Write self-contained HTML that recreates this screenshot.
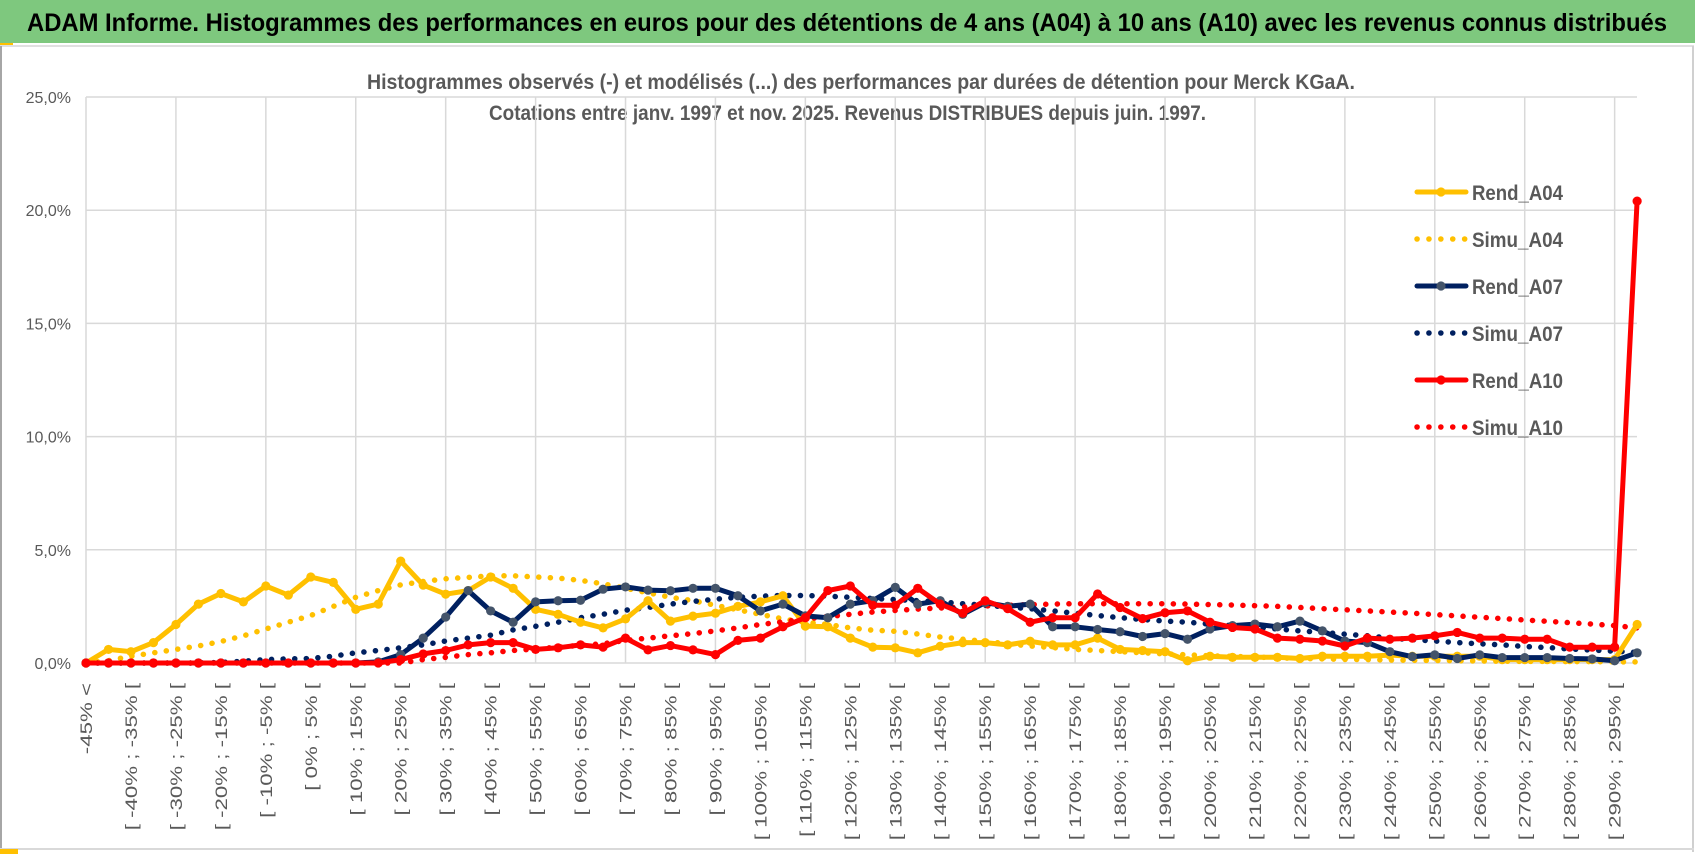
<!DOCTYPE html>
<html><head><meta charset="utf-8"><style>
html,body{margin:0;padding:0;background:#fff}
svg{display:block}
text{font-family:"Liberation Sans",sans-serif}
</style></head><body>
<svg id="c" width="1698" height="854" viewBox="0 0 1698 854" xmlns="http://www.w3.org/2000/svg">
<rect x="0" y="0" width="1698" height="854" fill="#fff"/>
<rect x="0" y="0" width="1695" height="43" fill="#7ec87e"/>
<text x="27" y="31" font-size="25" font-weight="bold" fill="#000" textLength="1640" lengthAdjust="spacingAndGlyphs">ADAM Informe. Histogrammes des performances en euros pour des détentions de 4 ans (A04) à 10 ans (A10) avec les revenus connus distribués</text>
<rect x="0" y="43" width="13" height="3" fill="#ffc000"/>
<line x1="0" y1="46" x2="1694" y2="46" stroke="#e0e0e0" stroke-width="2"/>
<line x1="1" y1="46" x2="1" y2="852" stroke="#a6a6a6" stroke-width="2"/>
<line x1="1693" y1="46" x2="1693" y2="852" stroke="#d0d0d0" stroke-width="2"/>
<line x1="0" y1="849" x2="1694" y2="849" stroke="#d9d9d9" stroke-width="2"/>
<rect x="0" y="849" width="18" height="5" fill="#ffc000"/>
<text x="367" y="89" font-size="21" font-weight="bold" fill="#595959" textLength="988" lengthAdjust="spacingAndGlyphs">Histogrammes observés (-) et modélisés (...) des performances par durées de détention pour Merck KGaA.</text>
<text x="489" y="120" font-size="21" font-weight="bold" fill="#595959" textLength="717" lengthAdjust="spacingAndGlyphs">Cotations entre janv. 1997 et nov. 2025. Revenus DISTRIBUES depuis juin. 1997.</text>
<g id="grid"></g>
<g id="ylabels"></g>
<g id="xlabels"></g>
<g id="series"></g>
<g id="legend"></g>
</svg>
<script>
const yTicks=[0,5,10,15,20,25];
const yTickLabels=["0,0%","5,0%","10,0%","15,0%","20,0%","25,0%"];
const rendA04=[0,0.6,0.5,0.9,1.7,2.6,3.07,2.7,3.4,3.0,3.8,3.56,2.37,2.6,4.5,3.44,3.04,3.2,3.8,3.3,2.37,2.15,1.8,1.55,1.95,2.75,1.85,2.07,2.2,2.5,2.7,2.97,1.63,1.6,1.1,0.7,0.67,0.45,0.74,0.9,0.9,0.8,0.96,0.8,0.8,1.1,0.6,0.55,0.5,0.1,0.3,0.25,0.25,0.25,0.2,0.3,0.3,0.3,0.35,0.3,0.3,0.3,0.3,0.15,0.15,0.15,0.15,0.15,0.15,1.7];
const simuA04=[0,0.1,0.3,0.45,0.6,0.75,0.95,1.2,1.5,1.8,2.1,2.5,2.9,3.2,3.45,3.6,3.72,3.78,3.85,3.85,3.8,3.75,3.65,3.5,3.3,3.1,2.9,2.75,2.55,2.35,2.15,1.95,1.8,1.7,1.55,1.45,1.4,1.28,1.15,1.05,0.95,0.85,0.75,0.68,0.6,0.55,0.5,0.45,0.4,0.36,0.32,0.29,0.26,0.23,0.2,0.18,0.16,0.15,0.13,0.12,0.11,0.1,0.09,0.08,0.07,0.07,0.06,0.06,0.05,0.05];
const rendA07=[0,0,0,0,0,0,0,0,0,0,0,0,0,0.05,0.37,1.1,2.03,3.2,2.3,1.8,2.7,2.75,2.77,3.26,3.36,3.22,3.19,3.3,3.3,2.97,2.3,2.6,2.08,2.0,2.6,2.75,3.34,2.6,2.75,2.15,2.67,2.5,2.6,1.6,1.6,1.48,1.38,1.17,1.3,1.05,1.5,1.65,1.72,1.6,1.85,1.42,0.97,0.9,0.5,0.28,0.36,0.2,0.36,0.24,0.24,0.24,0.2,0.18,0.1,0.45];
const simuA07=[0,0,0,0,0,0,0.02,0.08,0.15,0.18,0.2,0.3,0.45,0.55,0.67,0.8,0.97,1.1,1.23,1.46,1.62,1.8,2.0,2.15,2.33,2.45,2.6,2.72,2.82,2.9,2.95,2.98,2.98,2.95,2.9,2.85,2.8,2.75,2.7,2.62,2.55,2.47,2.4,2.3,2.2,2.1,2.0,1.92,1.85,1.8,1.72,1.65,1.58,1.5,1.42,1.35,1.27,1.2,1.1,1.03,0.97,0.9,0.85,0.8,0.73,0.68,0.62,0.57,0.52,0.47];
const rendA10=[0,0,0,0,0,0,0,0,0,0,0,0,0,0,0.15,0.4,0.55,0.8,0.9,0.9,0.6,0.67,0.8,0.7,1.1,0.58,0.77,0.58,0.37,1.0,1.1,1.6,2.0,3.2,3.4,2.55,2.55,3.3,2.6,2.2,2.75,2.4,1.8,2.0,2.0,3.05,2.45,1.96,2.22,2.3,1.8,1.57,1.5,1.1,1.05,0.97,0.75,1.1,1.05,1.1,1.2,1.35,1.1,1.1,1.05,1.05,0.7,0.7,0.7,20.4];
const simuA10=[0,0,0,0,0,0,0,0,0,0,0,0,0,0,0,0.15,0.25,0.37,0.45,0.55,0.62,0.7,0.78,0.85,1.0,1.1,1.2,1.3,1.42,1.55,1.7,1.82,1.95,2.05,2.15,2.25,2.32,2.38,2.43,2.47,2.52,2.55,2.58,2.6,2.62,2.62,2.62,2.62,2.62,2.6,2.58,2.56,2.53,2.5,2.45,2.4,2.35,2.3,2.25,2.2,2.14,2.08,2.02,1.96,1.9,1.84,1.78,1.72,1.65,1.55];
const categories=["-45% <"];
for(let k=1;k<70;k++){const a=-50+5*k;categories.push("[ "+a+"% ; "+(a+5)+"% [");}

const NS="http://www.w3.org/2000/svg";
const X0=86,DX=22.48,Y0=663,PY=22.64,XR=1637,YT=97;
const xs=i=>X0+DX*i, ys=v=>Y0-PY*v;
function el(tag,attrs,parent){const e=document.createElementNS(NS,tag);for(const k in attrs)e.setAttribute(k,attrs[k]);parent.appendChild(e);return e;}
const grid=document.getElementById('grid'),yl=document.getElementById('ylabels'),xl=document.getElementById('xlabels'),sg=document.getElementById('series'),lg=document.getElementById('legend');
yTicks.forEach((t,j)=>{
 const l=el('line',{x1:X0,x2:XR,y1:ys(t),y2:ys(t),stroke:'#d9d9d9','stroke-width':1.5},grid);
 
 
 const tx=el('text',{x:71,y:ys(t)+6,'text-anchor':'end','font-size':16,fill:'#595959'},yl);
 tx.textContent=yTickLabels[j];
 
 
});
for(let i=0;i<categories.length;i+=4){
 const l=el('line',{x1:xs(i),x2:xs(i),y1:YT,y2:Y0,stroke:'#d9d9d9','stroke-width':1.5},grid);
 
 
}
categories.forEach((c,i)=>{
 if(i%2)return;
 const x=xs(i)+6,y=683;
 const t=el('text',{x:x,y:y,'text-anchor':'end','font-size':17,fill:'#595959',transform:'rotate(-90 '+x+' '+y+')'},xl);
 t.textContent=c;
 
 
 const w=t.getComputedTextLength();
 if(w>0){t.setAttribute('textLength',(w*1.31).toFixed(1));t.setAttribute('lengthAdjust','spacingAndGlyphs');}
});
const defs=[
 {name:'Rend_A04',d:rendA04,color:'#ffc000',mk:'#ffc000',dot:false},
 {name:'Simu_A04',d:simuA04,color:'#ffc000',dot:true},
 {name:'Rend_A07',d:rendA07,color:'#002060',mk:'#44546a',dot:false},
 {name:'Simu_A07',d:simuA07,color:'#002060',dot:true},
 {name:'Rend_A10',d:rendA10,color:'#ff0000',mk:'#ff0000',dot:false},
 {name:'Simu_A10',d:simuA10,color:'#ff0000',dot:true}
];
const order=[1,3,5,0,2,4];
order.forEach(k=>{
 const s=defs[k];
 const g=el('g',{},sg);
 
 
 const pts=s.d.map((v,i)=>xs(i).toFixed(1)+','+ys(v).toFixed(1)).join(' ');
 const p=el('polyline',{points:pts,fill:'none',stroke:s.color,'stroke-width':s.dot?5.5:5,'stroke-linecap':'round','stroke-linejoin':'round'},g);
 if(s.dot)p.setAttribute('stroke-dasharray','0.1 11.5');
 
 
 if(!s.dot){s.d.forEach((v,i)=>{
  const m=el('circle',{cx:xs(i),cy:ys(v),r:4.6,fill:s.mk},g);
  
  
 });}
});
defs.forEach((s,j)=>{
 const y=192+47*j;
 const g=el('g',{},lg);
 
 
 const l=el('line',{x1:1417,x2:1466,y1:y,y2:y,stroke:s.color,'stroke-width':s.dot?5.5:5,'stroke-linecap':'round'},g);
 if(s.dot)l.setAttribute('stroke-dasharray','0.1 11.8');
 
 
 if(!s.dot){const m=el('circle',{cx:1441,cy:y,r:4.6,fill:s.mk},g);
  
  }
 const t=el('text',{x:1472,y:y+8,'font-size':21,'font-weight':'bold',fill:'#595959',textLength:91,lengthAdjust:'spacingAndGlyphs'},g);
 t.textContent=s.name;
 
 
});
</script>
</body></html>
